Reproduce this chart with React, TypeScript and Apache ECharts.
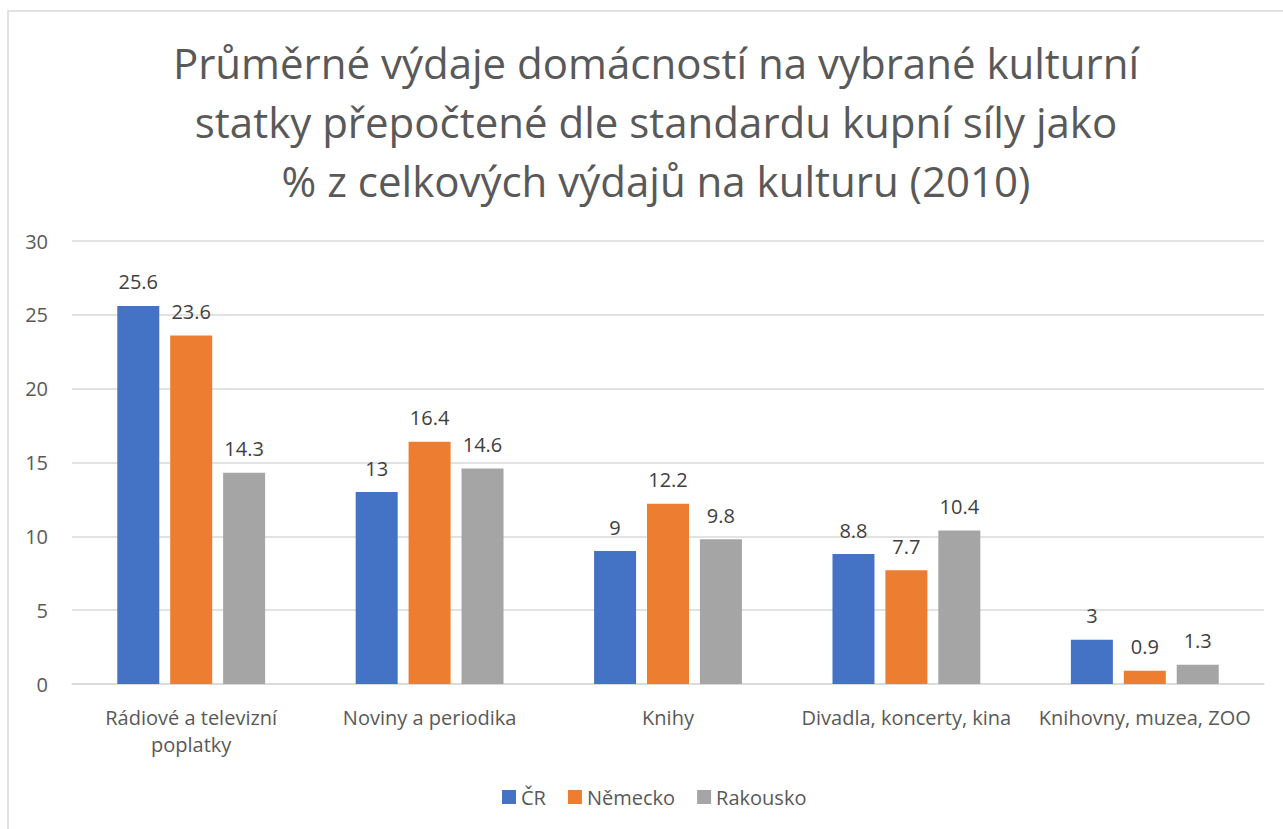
import React, { useEffect, useRef } from "react";
import * as echarts from "echarts";

const categories = [
  "Rádiové a televizní\npoplatky",
  "Noviny a periodika",
  "Knihy",
  "Divadla, koncerty, kina",
  "Knihovny, muzea, ZOO",
];
const seriesNames = ["ČR", "Německo", "Rakousko"];
const cr = [25.6, 13, 9, 8.8, 3];
const nemecko = [23.6, 16.4, 12.2, 7.7, 0.9];
const rakousko = [14.3, 14.6, 9.8, 10.4, 1.3];
const colors = ["#4472C4", "#ED7D31", "#A5A5A5"];
const yTicks = { min: 0, max: 30, interval: 5 };

const FONT = "'Open Sans', 'Noto Sans', sans-serif";

export default function App() {
  const ref = useRef<HTMLDivElement>(null);
  useEffect(() => {
    if (!ref.current) return;
    const chart = echarts.init(ref.current, undefined, { renderer: "svg" });
    const data = [cr, nemecko, rakousko];
    chart.setOption({
      animation: false,
      backgroundColor: "#ffffff",
      textStyle: { fontFamily: FONT },
      title: {
        text: "Průměrné výdaje domácností na vybrané kulturní\nstatky přepočtené dle standardu kupní síly jako\n% z celkových výdajů na kulturu (2010)",
        left: 651,
        textAlign: "center",
        top: 28,
        textStyle: {
          fontFamily: FONT,
          fontSize: 42,
          fontWeight: "normal",
          color: "#595959",
          lineHeight: 59,
        },
      },
      graphic: [
        {
          type: "rect",
          shape: { x: 8, y: 11, width: 1400, height: 1000 },
          style: { fill: "none", stroke: "#d9d9d9", lineWidth: 1.5 },
          silent: true,
        },
      ],
      legend: {
        bottom: 17,
        left: 497,
        itemWidth: 14,
        itemHeight: 14,
        itemGap: 22,
        icon: "rect",
        textStyle: { fontFamily: FONT, fontSize: 20, color: "#595959" },
        data: seriesNames,
      },
      grid: { left: 72, right: 19, top: 241, bottom: 145 },
      xAxis: {
        type: "category",
        data: categories,
        axisLine: { lineStyle: { color: "#d9d9d9", width: 1.5 } },
        axisTick: { show: false },
        axisLabel: {
          fontFamily: FONT,
          fontSize: 20,
          color: "#595959",
          margin: 20,
          lineHeight: 27,
          interval: 0,
        },
      },
      yAxis: {
        type: "value",
        min: yTicks.min,
        max: yTicks.max,
        interval: yTicks.interval,
        axisLine: { show: false },
        axisTick: { show: false },
        splitLine: { lineStyle: { color: "#d9d9d9", width: 1.5 } },
        axisLabel: { fontFamily: FONT, fontSize: 20, color: "#595959", margin: 24 },
      },
      series: seriesNames.map((name, i) => ({
        name,
        type: "bar",
        data: data[i],
        barWidth: 42,
        barGap: "26%",
        itemStyle: { color: colors[i] },
        label: {
          show: true,
          position: "top",
          distance: 14,
          fontFamily: FONT,
          fontSize: 20,
          color: "#404040",
        },
      })),
    });
    return () => chart.dispose();
  }, []);
  return (
    <div
      ref={ref}
      style={{ position: "fixed", left: 0, top: 0, width: 1283, height: 829 }}
    />
  );
}
